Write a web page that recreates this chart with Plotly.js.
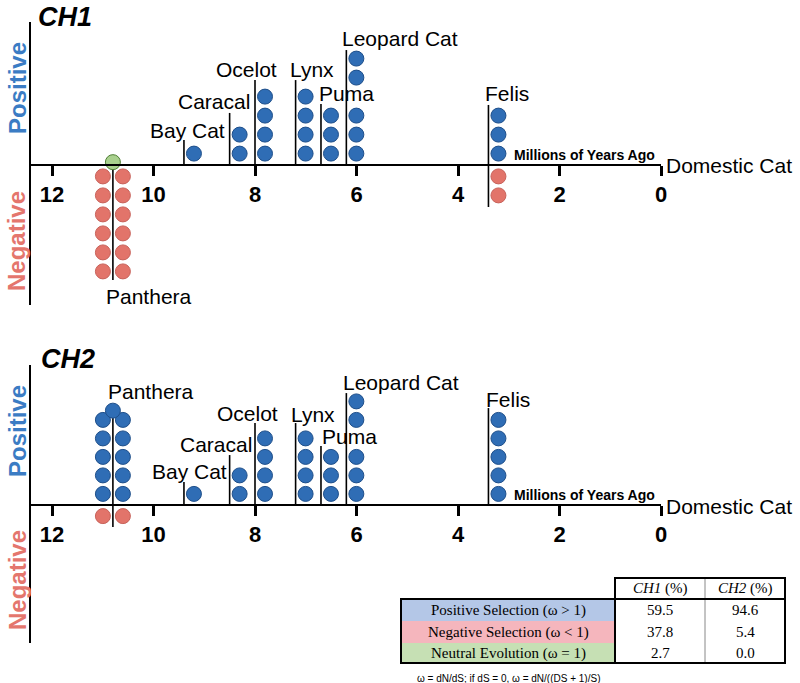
<!DOCTYPE html>
<html><head><meta charset="utf-8">
<script src="https://cdn.plot.ly/plotly-3.0.1.min.js"></script>
<style>html,body{margin:0;padding:0;background:#fff}#chart{width:800px;height:683px}</style>
</head><body><div id="chart"></div>
<script>
// ---------- DATA ----------
const clades = ['Panthera', 'Bay Cat', 'Caracal', 'Ocelot', 'Lynx', 'Puma', 'Leopard Cat', 'Felis'];
const divergenceMya = [10.8, 9.4, 8.5, 8.0, 7.2, 6.7, 6.2, 3.4];
const ch1Positive = [0, 1, 2, 4, 4, 3, 5, 3];
const ch1Negative = [12, 0, 0, 0, 0, 0, 0, 2];
const ch1Neutral  = [1, 0, 0, 0, 0, 0, 0, 0];
const ch2Positive = [11, 1, 2, 4, 4, 3, 5, 5];
const ch2Negative = [2, 0, 0, 0, 0, 0, 0, 0];
const ch2Neutral  = [0, 0, 0, 0, 0, 0, 0, 0];
const tickVals = [12, 10, 8, 6, 4, 2, 0];
const tickText = ['12', '10', '8', '6', '4', '2', '0'];
const tableRowLabels = ['Positive Selection (ω > 1)', 'Negative Selection (ω < 1)', 'Neutral Evolution (ω = 1)'];
const tableColLabels = ['<i>CH1</i> (%)', '<i>CH2</i> (%)'];
const ch1Percent = ['59.5', '37.8', '2.7'];
const ch2Percent = ['94.6', '5.4', '0.0'];
const footnote = 'ω = dN/dS; if dS = 0, ω = dN/((DS + 1)/S)';

// ---------- LAYOUT CONSTANTS ----------
const W = 800, H = 683;
const PX = x => x / W, PY = y => 1 - y / H;
const xZeroPx = 661, pxPerMya = 50.75;
const xLeftPx = 31;
const xRange = [(xZeroPx - xLeftPx) / pxPerMya, 0];
const dotOffset = 10 / pxPerMya;
const blue = '#2f6db5', blueLine = '#1f4f8a';
const red = '#e2746a', redLine = '#c8625a';
const green = '#a9d08e', greenLine = '#4f7f35';
const posColor = '#3b7cc4', negColor = '#e4766d';
const fontSans = 'Liberation Sans, Arial, Helvetica, sans-serif';
const fontSerif = 'Liberation Serif, Times New Roman, serif';

const panels = [
  { name: 'CH1', pos: ch1Positive, neg: ch1Negative, neu: ch1Neutral,
    axisY: 165, unit: 19, top: 22, bot: 305, xa: 'x', ya: 'y',
    lineTop:    [0, 1.32, 2.74, 4.47, 4.47, 3.21, 6.05, 3.16],
    lineBottom: [-6.05, 0, 0, 0, 0, 0, 0, -2.21],
    skip: { 'Leopard Cat': 4 },
    labels: [ // clade label centres in px
      [149, 297, 'Panthera'], [187, 131, 'Bay Cat'], [214, 101, 'Caracal'], [246, 69, 'Ocelot'],
      [312, 69, 'Lynx'], [346, 94, 'Puma'], [400, 39, 'Leopard Cat'], [507, 93, 'Felis']],
    title: [65, 17], posLbl: 88, negLbl: 241 },
  { name: 'CH2', pos: ch2Positive, neg: ch2Negative, neu: ch2Neutral,
    axisY: 505, unit: 18.5, top: 365, bot: 643, xa: 'x2', ya: 'y2',
    lineTop:    [4.76, 1.24, 2.70, 4.43, 4.43, 3.19, 6.05, 5.24],
    lineBottom: [-1.19, 0, 0, 0, 0, 0, 0, 0],
    skip: { 'Leopard Cat': 4 },
    labels: [
      [151, 391, 'Panthera'], [189, 471, 'Bay Cat'], [216, 444, 'Caracal'], [247, 413, 'Ocelot'],
      [313, 414, 'Lynx'], [349, 436, 'Puma'], [401, 382, 'Leopard Cat'], [508, 399, 'Felis']],
    title: [68, 359], posLbl: 431, negLbl: 580 }
];

const traces = [];
const shapes = [];
const annotations = [];
const layout = {
  width: W, height: H, margin: { l: 0, r: 0, t: 0, b: 0 },
  paper_bgcolor: '#fff', plot_bgcolor: 'rgba(0,0,0,0)',
  showlegend: false, font: { family: fontSans, color: '#000' },
  shapes: shapes, annotations: annotations
};
const txt = (x, y, text, font, extra) => Object.assign({ xref: 'paper', yref: 'paper', x: PX(x), y: PY(y),
  text: text, showarrow: false, xanchor: 'center', yanchor: 'middle', font: font }, extra || {});

panels.forEach((p, pi) => {
  const sfx = pi === 0 ? '' : '2';
  const px = [], py = [], nx = [], ny = [], ux = [], uy = [];
  clades.forEach((c, i) => {
    const t = divergenceMya[i];
    const twoCol = c === 'Panthera';
    if (twoCol) {
      const pairs = Math.floor(p.pos[i] / 2);
      for (let k = 1; k <= pairs; k++) {
        px.push(t + dotOffset, t - dotOffset); py.push(k - 0.4, k - 0.4);
      }
      if (p.pos[i] % 2) { px.push(t); py.push(pairs + 0.1); }
      const nPairs = Math.floor(p.neg[i] / 2);
      for (let k = 1; k <= nPairs; k++) {
        nx.push(t + dotOffset, t - dotOffset); ny.push(-(k - 0.4), -(k - 0.4));
      }
    } else {
      let lvl = 1;
      for (let k = 0; k < p.pos[i]; k++) {
        if (p.skip[c] === lvl) lvl++;
        px.push(t - dotOffset); py.push(lvl - 0.4); lvl++;
      }
      for (let k = 1; k <= p.neg[i]; k++) { nx.push(t - dotOffset); ny.push(-(k - 0.4)); }
    }
    for (let k = 0; k < p.neu[i]; k++) { ux.push(t); uy.push(0.15); }
    shapes.push({ type: 'line', xref: p.xa, yref: p.ya, x0: t, x1: t,
      y0: p.lineBottom[i], y1: p.lineTop[i], line: { color: '#000', width: 1.6 }, layer: 'below' });
  });
  const mk = (x, y, col, lc) => ({ type: 'scatter', mode: 'markers', x: x, y: y, xaxis: p.xa, yaxis: p.ya,
    cliponaxis: false, hoverinfo: 'skip',
    marker: { size: 15, color: col, line: { color: lc, width: 1 } } });
  traces.push(mk(px, py, blue, blueLine));
  traces.push(mk(nx, ny, red, redLine));
  if (ux.length) traces.push(mk(ux, uy, green, greenLine));

  layout['xaxis' + sfx] = {
    domain: [PX(xLeftPx), PX(xZeroPx)], range: xRange, anchor: 'free', position: PY(p.axisY),
    showline: true, linecolor: '#000', linewidth: 2, showgrid: false, zeroline: false,
    ticks: 'outside', ticklen: 10, tickwidth: 3, tickcolor: '#000',
    tickmode: 'array', tickvals: tickVals, ticktext: tickText,
    tickfont: { family: fontSans, size: 22, weight: 700, color: '#000' }, fixedrange: true
  };
  layout['yaxis' + sfx] = {
    domain: [PY(p.bot), PY(p.top)], anchor: p.xa,
    range: [-(p.bot - p.axisY) / p.unit, (p.axisY - p.top) / p.unit],
    showline: true, linecolor: '#000', linewidth: 2, showgrid: false, zeroline: false,
    showticklabels: false, ticks: '', fixedrange: true
  };

  p.labels.forEach(l => annotations.push(txt(l[0], l[1], l[2], { size: 21, color: '#000' })));
  annotations.push(txt(p.title[0], p.title[1], '<b><i>' + p.name + '</i></b>', { size: 27, color: '#000' }));
  annotations.push(txt(584, p.axisY - 10, '<b>Millions of Years Ago</b>', { size: 14, color: '#000' }));
  annotations.push(txt(729, p.axisY + 1, 'Domestic Cat', { size: 21, color: '#000' }));
  annotations.push(txt(17, p.posLbl, '<b>Positive</b>', { size: 24, color: posColor }, { textangle: -90 }));
  annotations.push(txt(17, p.negLbl, '<b>Negative</b>', { size: 24, color: negColor }, { textangle: -90 }));
});

// ---------- TABLE ----------
const colX = [401, 615, 705, 785];
const rowY = [578, 599, 621, 643, 663];
const rowFill = ['#b4c7e7', '#f5b6bd', '#c6e0b4'];
const serif = { family: fontSerif, size: 15, color: '#000' };
const pr = (x0, y0, x1, y1, extra) => Object.assign({ type: 'rect', xref: 'paper', yref: 'paper',
  x0: PX(x0), x1: PX(x1), y0: PY(y0), y1: PY(y1) }, extra);
tableRowLabels.forEach((lbl, i) => {
  shapes.push(pr(colX[0], rowY[i + 1], colX[1], rowY[i + 2], { fillcolor: rowFill[i], line: { width: 0 } }));
  const cy = (rowY[i + 1] + rowY[i + 2]) / 2;
  annotations.push(txt((colX[0] + colX[1]) / 2, cy, lbl, serif));
  annotations.push(txt((colX[1] + colX[2]) / 2, cy, ch1Percent[i], serif));
  annotations.push(txt((colX[2] + colX[3]) / 2, cy, ch2Percent[i], serif));
});
tableColLabels.forEach((lbl, j) => {
  annotations.push(txt((colX[j + 1] + colX[j + 2]) / 2, (rowY[0] + rowY[1]) / 2, lbl, serif));
});
shapes.push({ type: 'line', xref: 'paper', yref: 'paper', x0: PX(colX[2]), x1: PX(colX[2]), y0: PY(rowY[0]), y1: PY(rowY[4]),
  line: { color: '#888', width: 1 } });
shapes.push(pr(colX[1], rowY[0], colX[3], rowY[1], { line: { color: '#000', width: 2 } }));
shapes.push(pr(colX[0], rowY[1], colX[3], rowY[4], { line: { color: '#000', width: 2 } }));
shapes.push({ type: 'line', xref: 'paper', yref: 'paper', x0: PX(colX[1]), x1: PX(colX[1]), y0: PY(rowY[1]), y1: PY(rowY[4]),
  line: { color: '#000', width: 2 } });
annotations.push(txt(508, 678, footnote, { family: fontSans, size: 10, color: '#000' }));

Plotly.newPlot('chart', traces, layout, { displayModeBar: false, staticPlot: true });
</script></body></html>
